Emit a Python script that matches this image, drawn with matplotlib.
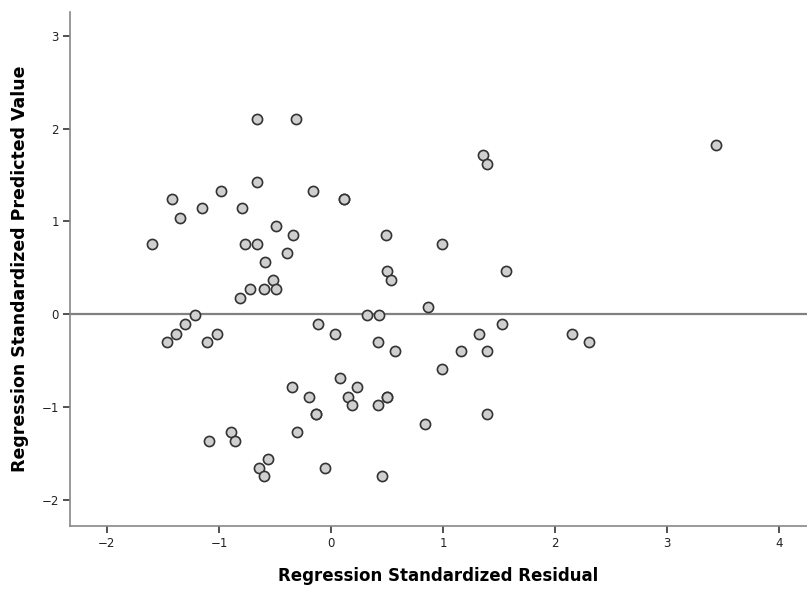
import numpy as np
import matplotlib; matplotlib.use('Agg')
import matplotlib.pyplot as plt

# standardized residual (x) vs standardized predicted value (y)
resid = [-0.66, -0.31, -0.66, -0.98, -0.16, -1.42, 0.12, 0.12, -1.35, -1.15,
         -0.79, -0.49, -0.34, -1.60, -0.77, -0.66, -0.39, -0.59, 0.49, 0.50,
         0.54, -0.52, -0.72, -0.60, -0.49, -0.81, 1.36, 1.39, 3.44, 0.99,
         1.56, 0.87,
         -1.21, -1.30, -1.38, -1.46, -1.11, -1.02, -0.12, 0.04, 0.32, 0.43,
         0.42, 0.57, 1.53, 1.32, 2.15, 2.30, 1.16, 1.39, 0.99,
         -0.35, -0.20, -0.13, -0.13, 0.08, 0.15, 0.19, 0.23, 0.42, 0.50, 0.50,
         1.39, 0.84, -0.30, -0.89, -0.86, -1.09, -0.56, -0.64, -0.60, -0.05,
         0.46]
pred = [2.10, 2.10, 1.43, 1.33, 1.33, 1.24, 1.24, 1.24, 1.04, 1.14,
        1.14, 0.95, 0.85, 0.76, 0.76, 0.76, 0.66, 0.56, 0.85, 0.47,
        0.37, 0.37, 0.27, 0.27, 0.27, 0.18, 1.72, 1.62, 1.82, 0.76,
        0.47, 0.08,
        -0.01, -0.11, -0.21, -0.30, -0.30, -0.21, -0.11, -0.21, -0.01, -0.01,
        -0.30, -0.40, -0.11, -0.21, -0.21, -0.30, -0.40, -0.40, -0.59,
        -0.79, -0.89, -1.08, -1.08, -0.69, -0.89, -0.98, -0.79, -0.98, -0.89, -0.89,
        -1.08, -1.18, -1.27, -1.27, -1.37, -1.37, -1.56, -1.66, -1.75, -1.66,
        -1.75]

x_ticks = [-2, -1, 0, 1, 2, 3, 4]
y_ticks = [-2, -1, 0, 1, 2, 3]

fig = plt.figure(figsize=(8.07, 5.95), dpi=100)
ax = fig.add_axes([0.0867, 0.116, 0.9133, 0.864])

ax.axhline(0, color='#808080', linewidth=1.6, zorder=1)
ax.plot(resid, pred, 'o', markersize=7.3, markerfacecolor='#cfcfcf',
        markeredgecolor='#333333', markeredgewidth=1.2, linestyle='none', zorder=2)

ax.set_xlim(-2.33, 4.25)
ax.set_ylim(-2.284, 3.26)
ax.set_xticks(x_ticks)
ax.set_yticks(y_ticks)
ax.set_xticklabels(['\u22122', '\u22121', '0', '1', '2', '3', '4'])
ax.set_yticklabels(['\u22122', '\u22121', '0', '1', '2', '3'])

for side in ['top', 'right']:
    ax.spines[side].set_visible(False)
for side in ['left', 'bottom']:
    ax.spines[side].set_color('#888888')
    ax.spines[side].set_linewidth(1.2)
ax.tick_params(axis='both', length=5, width=1.2, color='#333333',
               labelsize=8.5, labelcolor='#222222', pad=3)

ax.set_xlabel('Regression Standardized Residual', fontsize=12,
              fontweight='bold', labelpad=12)
ax.set_ylabel('Regression Standardized Predicted Value', fontsize=12.5,
              fontweight='bold', labelpad=9)

fig.savefig('out.png', dpi=100)
